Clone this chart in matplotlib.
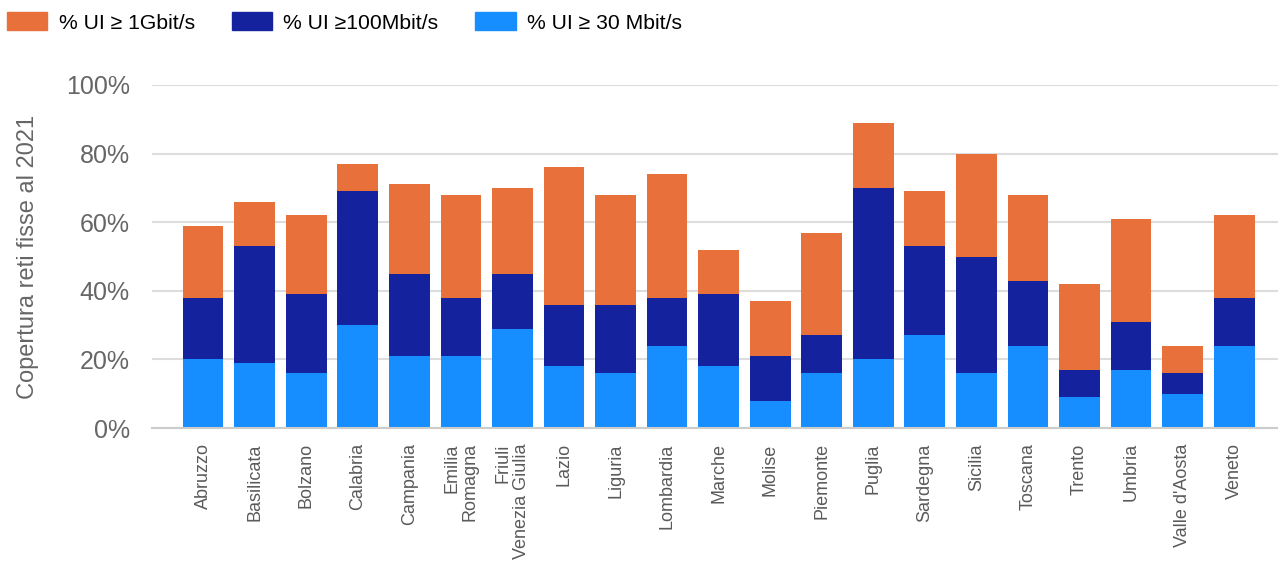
import matplotlib
matplotlib.use("Agg")
import matplotlib.pyplot as plt
from matplotlib.patches import Patch
import numpy as np

plt.rcParams['font.family'] = ['Liberation Sans', 'DejaVu Sans']

regions = ["Abruzzo", "Basilicata", "Bolzano", "Calabria", "Campania",
           "Emilia\nRomagna", "Friuli\nVenezia Giulia", "Lazio", "Liguria",
           "Lombardia", "Marche", "Molise", "Piemonte", "Puglia", "Sardegna",
           "Sicilia", "Toscana", "Trento", "Umbria", "Valle d'Aosta", "Veneto"]

# stacked segment values (percentage points)
ui_30 = [20, 19, 16, 30, 21, 21, 29, 18, 16, 24, 18, 8, 16, 20, 27, 16, 24, 9, 17, 10, 24]
ui_100 = [18, 34, 23, 39, 24, 17, 16, 18, 20, 14, 21, 13, 11, 50, 26, 34, 19, 8, 14, 6, 14]
ui_1g = [21, 13, 23, 8, 26, 30, 25, 40, 32, 36, 13, 16, 30, 19, 16, 30, 25, 25, 30, 8, 24]

series_labels = ["% UI \u2265 1Gbit/s", "% UI \u2265100Mbit/s", "% UI \u2265 30 Mbit/s"]
yticks = [0, 20, 40, 60, 80, 100]
ylabel = "Copertura reti fisse al 2021"

c_orange = "#E8703A"
c_dark = "#14239D"
c_light = "#168EFF"

fig = plt.figure(figsize=(12.78, 5.61), dpi=100)
ax = fig.add_axes([0.119, 0.237, 0.881, 0.6115])

x = np.arange(len(regions))
w = 0.79
b1 = np.array(ui_30)
b2 = b1 + np.array(ui_100)
ax.bar(x, ui_30, w, color=c_light, zorder=2)
ax.bar(x, ui_100, w, bottom=b1, color=c_dark, zorder=2)
ax.bar(x, ui_1g, w, bottom=b2, color=c_orange, zorder=2)

ax.set_xlim(-0.99, 20.85)
ax.set_ylim(0, 100)
ax.set_yticks(yticks)
ax.set_yticklabels([f"{v}%" for v in yticks], fontsize=18, color="#666666")
ax.set_xticks(x)
ax.set_xticklabels(regions, rotation=90, fontsize=13, color="#5a5a5a",
                   linespacing=1.1, va="top", ha="center", multialignment="right")
ax.tick_params(axis="both", length=0)
ax.tick_params(axis="y", pad=16)
ax.tick_params(axis="x", pad=11)
ax.grid(axis="y", color="#DDDDDD", linewidth=1.5, zorder=0)
ax.set_axisbelow(True)
for s in ["top", "right", "left"]:
    ax.spines[s].set_visible(False)
ax.spines["bottom"].set_color("#CCCCCC")
ax.spines["bottom"].set_linewidth(1.5)

ax.set_ylabel(ylabel, fontsize=17, color="#666666", labelpad=19)

handles = [Patch(color=c_orange), Patch(color=c_dark), Patch(color=c_light)]
fig.legend(handles, series_labels, loc="upper left", bbox_to_anchor=(-0.0095, 1.012),
           ncol=3, frameon=False, fontsize=15.2, handlelength=1.9, handleheight=0.95,
           columnspacing=1.75, handletextpad=0.55)

fig.savefig("out.png", dpi=100, facecolor="white")
